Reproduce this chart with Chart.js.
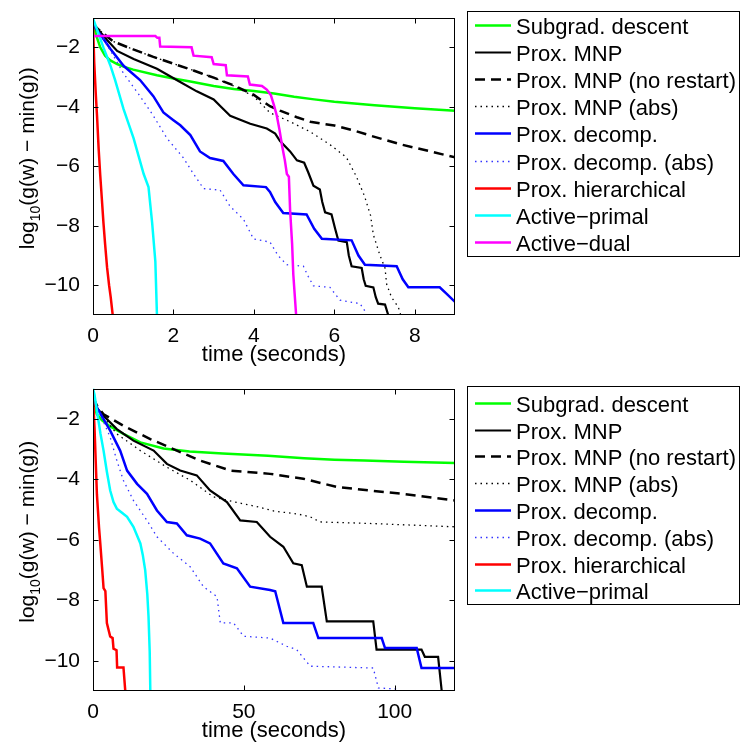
<!DOCTYPE html>
<html lang="en">
<head>
<meta charset="UTF-8">
<title>Convergence comparison</title>
<script src="https://cdn.jsdelivr.net/npm/chart.js"></script>
<style>
    body { margin: 0; background: #fff; }
    canvas { position: absolute; left: 0; }
    #topChart { top: 0; }
    #bottomChart { top: 371px; }
</style>
</head>
<body>
<canvas id="topChart" width="740" height="371"></canvas>
<canvas id="bottomChart" width="740" height="371"></canvas>
<script>
// ---- data: [time in seconds, log10(g(w) - min(g))] ----
const seriesNames = ['Subgrad. descent', 'Prox. MNP', 'Prox. MNP (no restart)', 'Prox. MNP (abs)',
    'Prox. decomp.', 'Prox. decomp. (abs)', 'Prox. hierarchical', 'Active\u2212primal', 'Active\u2212dual'];

const yTickValues = [-10, -8, -6, -4, -2];
const topXTicks = [0, 2, 4, 6, 8];
const bottomXTicks = [0, 50, 100];

// top panel
const topSubgrad = [[0,-1.1],[0.08,-1.6],[0.18,-2.0],[0.3,-2.28],[0.43,-2.44],[0.6,-2.56],[0.76,-2.65],[1.0,-2.75],[1.59,-2.94],[2.0,-3.05],[2.42,-3.15],[3.0,-3.3],[3.5,-3.4],[4.0,-3.47],[4.5,-3.55],[5.0,-3.66],[5.5,-3.75],[6.0,-3.83],[6.5,-3.89],[7.0,-3.95],[7.5,-4.0],[8.0,-4.05],[8.5,-4.09],[9,-4.13]];
const topMnp = [[0,-1.2],[0.1,-1.36],[0.35,-1.75],[0.6,-2.12],[1.01,-2.39],[1.59,-2.72],[2.08,-3.1],[2.58,-3.48],[3.0,-3.75],[3.2,-4.02],[3.41,-4.3],[3.91,-4.57],[4.32,-4.73],[4.53,-4.9],[4.65,-5.15],[4.9,-5.5],[5.07,-5.8],[5.25,-5.88],[5.35,-6.2],[5.48,-6.65],[5.64,-6.78],[5.7,-7.2],[5.77,-7.55],[5.93,-7.62],[6.02,-8.1],[6.1,-8.5],[6.31,-8.55],[6.36,-9.0],[6.43,-9.36],[6.68,-9.42],[6.73,-9.8],[6.78,-10.02],[6.97,-10.07],[7.03,-10.4],[7.09,-10.62],[7.26,-10.65],[7.34,-11.0]];
const topMnpNoRestart = [[0,-1.2],[0.1,-1.36],[0.5,-1.8],[1.0,-2.07],[1.5,-2.32],[2.0,-2.55],[2.5,-2.78],[3.0,-3.02],[3.5,-3.28],[4.0,-3.6],[4.4,-3.98],[4.65,-4.13],[5.07,-4.35],[5.4,-4.5],[6.0,-4.63],[6.5,-4.8],[6.9,-4.97],[7.7,-5.28],[8.3,-5.47],[9,-5.7]];
const topMnpAbs = [[0,-1.2],[0.1,-1.36],[0.5,-1.8],[1.0,-2.07],[1.5,-2.32],[2.0,-2.55],[2.5,-2.78],[3.0,-3.02],[3.5,-3.3],[4.0,-3.65],[4.4,-4.2],[4.9,-4.5],[5.4,-4.84],[5.9,-5.28],[6.3,-5.7],[6.55,-6.35],[6.75,-7.0],[6.9,-7.65],[6.97,-8.3],[7.13,-8.98],[7.26,-9.42],[7.3,-9.96],[7.42,-10.4],[7.59,-10.73],[7.65,-11.0]];
const topDecomp = [[0,-1.25],[0.2,-1.6],[0.43,-2.05],[0.76,-2.62],[1.17,-3.1],[1.5,-3.64],[1.75,-4.19],[2.0,-4.45],[2.17,-4.62],[2.42,-4.95],[2.66,-5.5],[2.91,-5.72],[3.24,-5.82],[3.49,-6.26],[3.74,-6.64],[4.3,-6.7],[4.4,-6.86],[4.53,-7.2],[4.73,-7.57],[5.31,-7.62],[5.5,-8.1],[5.69,-8.44],[6.43,-8.49],[6.6,-9.0],[6.76,-9.31],[7.55,-9.36],[7.7,-9.8],[7.84,-10.07],[8.62,-10.07],[8.8,-10.3],[9,-10.56]];
const topDecompAbs = [[0,-1.25],[0.2,-1.6],[0.43,-2.1],[0.6,-2.5],[0.76,-2.88],[1.17,-3.64],[1.5,-4.3],[1.84,-5.06],[2.25,-5.72],[2.5,-6.26],[2.75,-6.75],[3.16,-6.8],[3.41,-7.35],[3.74,-7.78],[3.99,-8.44],[4.4,-8.55],[4.6,-9.0],[4.82,-9.31],[5.23,-9.36],[5.35,-9.7],[5.48,-10.02],[5.89,-10.07],[6.14,-10.5],[6.64,-10.62],[6.8,-10.95]];
const topHier = [[0,-1.2],[0.03,-2.5],[0.07,-3.6],[0.1,-4.3],[0.14,-5.4],[0.18,-6.3],[0.22,-7.1],[0.26,-7.9],[0.3,-8.6],[0.35,-9.4],[0.4,-10.0],[0.44,-10.4],[0.49,-11]];
const topPrimal = [[0,-1.03],[0.1,-1.4],[0.26,-2.01],[0.43,-2.6],[0.55,-3.1],[0.76,-4.08],[1.01,-5.06],[1.26,-6.26],[1.38,-6.7],[1.47,-7.89],[1.55,-9.2],[1.59,-11]];
const topDual = [[0,-1.62],[1.55,-1.62],[1.6,-1.68],[1.65,-1.68],[1.67,-1.97],[2.45,-2.0],[2.5,-2.28],[2.95,-2.33],[3.0,-2.56],[3.3,-2.6],[3.33,-2.94],[3.85,-2.98],[3.9,-3.25],[4.2,-3.3],[4.32,-3.42],[4.42,-3.6],[4.5,-3.95],[4.57,-4.3],[4.64,-4.8],[4.7,-5.3],[4.77,-5.8],[4.82,-6.26],[4.87,-6.35],[4.9,-7.46],[4.95,-8.6],[4.98,-9.64],[5.05,-11]];

// bottom panel
const botSubgrad = [[0,-1.45],[1.3,-1.85],[3,-2.05],[5.7,-2.25],[10.1,-2.5],[15.7,-2.78],[23.4,-2.98],[32,-3.08],[43,-3.15],[58,-3.22],[70,-3.3],[80,-3.35],[90,-3.38],[103,-3.42],[120,-3.46]];
const botMnp = [[0,-1.35],[0.2,-1.52],[3.5,-1.9],[7.9,-2.34],[13.4,-2.72],[20.1,-3.05],[24.5,-3.49],[28.9,-3.71],[34.4,-3.87],[38.8,-4.37],[44.4,-4.75],[48.8,-5.36],[54.3,-5.41],[58.7,-5.9],[63.1,-6.23],[66.4,-6.78],[69.2,-6.84],[70.9,-7.55],[75.8,-7.55],[77.5,-8.7],[92.9,-8.7],[94.0,-9.63],[108.9,-9.63],[110,-9.87],[114.4,-9.87],[115.6,-11]];
const botMnpNoRestart = [[0,-1.3],[1.5,-1.6],[3.5,-1.85],[10.1,-2.23],[19,-2.67],[27.8,-3.05],[35.5,-3.38],[45.5,-3.71],[58.7,-3.82],[69.7,-3.98],[80.8,-4.25],[91.8,-4.37],[102.8,-4.48],[120,-4.7]];
const botMnpAbs = [[0,-1.3],[2,-1.75],[4,-2.0],[7.9,-2.5],[15.7,-3.05],[24.5,-3.6],[32.2,-4.03],[36,-4.3],[39.9,-4.58],[46.5,-4.74],[54.2,-4.9],[60,-5.05],[68,-5.15],[72,-5.24],[75.3,-5.41],[91.8,-5.46],[120,-5.57]];
const botDecomp = [[0,-1.3],[1.3,-1.63],[5.7,-2.39],[9,-3.05],[11.3,-3.71],[14.6,-4.15],[17.9,-4.48],[21.2,-5.03],[24.5,-5.41],[27.8,-5.46],[31.1,-5.85],[35.5,-5.96],[38.8,-6.12],[43.2,-6.78],[47.7,-6.94],[52.1,-7.55],[58.7,-7.66],[60.4,-7.7],[63.1,-8.75],[73.0,-8.75],[74.7,-9.25],[95.7,-9.25],[96.8,-9.58],[107.3,-9.58],[108.9,-10.24],[120,-10.24]];
const botDecompAbs = [[0,-1.3],[1.3,-1.63],[3.5,-2.1],[5.7,-2.61],[7.9,-3.38],[10.1,-4.04],[13.4,-4.7],[17.9,-5.36],[21.2,-5.9],[26.7,-6.45],[32.2,-6.89],[36.6,-7.55],[41.1,-7.88],[42.2,-8.75],[46.6,-8.75],[49.9,-9.19],[58.7,-9.25],[64.2,-9.52],[67.5,-9.63],[72,-10.18],[92.9,-10.24],[94.6,-10.9],[101.8,-10.94]];
const botHier = [[0,-1.2],[0.5,-2.3],[1.3,-4.5],[2.0,-5.6],[2.4,-6.1],[3.0,-6.9],[3.5,-7.6],[4.1,-7.7],[4.6,-8.75],[5.7,-9.2],[6.5,-9.25],[6.8,-9.6],[7.8,-9.65],[8,-10.22],[10.1,-10.22],[10.7,-11]];
const botPrimal = [[0,-1.0],[0.5,-1.2],[1.3,-1.74],[2.5,-2.5],[3.5,-3.05],[4.6,-3.75],[5.7,-4.37],[6.8,-4.75],[7.9,-4.97],[9.5,-5.1],[11.3,-5.24],[13.4,-5.57],[15.7,-6.12],[16.5,-6.5],[17.3,-7.0],[18.0,-7.8],[18.4,-8.53],[18.8,-9.7],[19,-11]];

// ---- line styles, same order as seriesNames ----
const lineStyles = [
    { color: '#00ff00', width: 2.5, dash: [] },
    { color: '#000000', width: 2.2, dash: [] },
    { color: '#000000', width: 2.5, dash: [10, 6] },
    { color: '#000000', width: 1.3, dash: [1.5, 4] },
    { color: '#0000ff', width: 2.5, dash: [] },
    { color: '#3333ff', width: 1.3, dash: [1.5, 4] },
    { color: '#ff0000', width: 2.5, dash: [] },
    { color: '#00ffff', width: 2.5, dash: [] },
    { color: '#ff00ff', width: 2.5, dash: [] }
];

const FONT = '"Liberation Sans", Arial, Helvetica, sans-serif';
const minus = s => String(s).replace('-', '\u2212');

// box, inward ticks, axis titles and legend box
const framePlugin = {
    id: 'frame',
    afterDraw(chart, args, opts) {
        const ctx = chart.ctx, a = chart.chartArea;
        const xs = chart.scales.x, ys = chart.scales.y;
        ctx.save();
        ctx.strokeStyle = '#000';
        ctx.lineWidth = 1;
        const L = Math.round(a.left) + 0.5, R = Math.round(a.right) - 0.5;
        const T = Math.round(a.top) + 0.5, B = Math.round(a.bottom) - 0.5;
        ctx.strokeRect(L, T, R - L, B - T);
        ctx.beginPath();
        xs.ticks.forEach(t => {
            const px = Math.round(xs.getPixelForValue(t.value)) + 0.5;
            ctx.moveTo(px, B); ctx.lineTo(px, B - 5);
            ctx.moveTo(px, T); ctx.lineTo(px, T + 5);
        });
        ys.ticks.forEach(t => {
            const py = Math.round(ys.getPixelForValue(t.value)) + 0.5;
            ctx.moveTo(L, py); ctx.lineTo(L + 5, py);
            ctx.moveTo(R, py); ctx.lineTo(R - 5, py);
        });
        ctx.stroke();

        // x title
        ctx.fillStyle = '#000';
        ctx.font = '22px ' + FONT;
        ctx.textAlign = 'center';
        ctx.textBaseline = 'alphabetic';
        ctx.fillText('time (seconds)', (a.left + a.right) / 2, a.bottom + 46);

        // y title with subscript
        const parts = [['log', 21, 0], ['10', 14, 6], ['(g(w) \u2212 min(g))', 21, 0]];
        let total = 0;
        parts.forEach(p => { ctx.font = p[1] + 'px ' + FONT; total += ctx.measureText(p[0]).width; });
        ctx.translate(34, (a.top + a.bottom) / 2 - 8);
        ctx.rotate(-Math.PI / 2);
        ctx.textAlign = 'left';
        let cx = -total / 2;
        parts.forEach(p => {
            ctx.font = p[1] + 'px ' + FONT;
            ctx.fillText(p[0], cx, p[2]);
            cx += ctx.measureText(p[0]).width;
        });
        ctx.setTransform(1, 0, 0, 1, 0, 0);

        // legend
        const lg = opts.legend;
        ctx.fillStyle = '#fff';
        ctx.fillRect(lg.left, lg.top, lg.right - lg.left, lg.bottom - lg.top);
        ctx.strokeStyle = '#000';
        ctx.lineWidth = 1;
        ctx.strokeRect(lg.left + 0.5, lg.top + 0.5, lg.right - lg.left - 1, lg.bottom - lg.top - 1);
        ctx.font = '22px ' + FONT;
        ctx.textAlign = 'left';
        chart.data.datasets.forEach((ds, i) => {
            const y = Math.round(lg.firstRow + i * lg.rowStep) + 0.5;
            ctx.strokeStyle = ds.borderColor;
            ctx.lineWidth = ds.borderWidth;
            ctx.setLineDash(ds.borderDash);
            ctx.beginPath();
            ctx.moveTo(lg.left + 8, y);
            ctx.lineTo(lg.left + 44, y);
            ctx.stroke();
            ctx.setLineDash([]);
            ctx.fillStyle = '#000';
            ctx.fillText(ds.label, lg.left + 49, y + 8);
        });
        ctx.restore();
    }
};

function buildChart(canvasId, series, xMax, xTicks, areaTop, xHeight, legend) {
    const datasets = series.map((pts, i) => ({
        label: seriesNames[i],
        data: pts.map(p => ({ x: p[0], y: p[1] })),
        borderColor: lineStyles[i].color,
        borderWidth: lineStyles[i].width,
        borderDash: lineStyles[i].dash,
        pointRadius: 0,
        tension: 0,
        fill: false,
        order: -i
    }));
    return new Chart(document.getElementById(canvasId), {
        type: 'line',
        data: { datasets },
        plugins: [framePlugin],
        options: {
            responsive: false,
            animation: false,
            layout: { padding: { left: 0, top: areaTop, right: 285, bottom: 0 } },
            plugins: {
                legend: { display: false },
                tooltip: { enabled: false },
                frame: { legend }
            },
            scales: {
                x: {
                    type: 'linear',
                    min: 0,
                    max: xMax,
                    grid: { display: false },
                    border: { display: false },
                    afterBuildTicks: s => { s.ticks = xTicks.map(v => ({ value: v })); },
                    afterFit: s => { s.height = xHeight; },
                    ticks: { color: '#000', font: { family: FONT, size: 21 }, padding: 1, maxRotation: 0, autoSkip: false }
                },
                y: {
                    type: 'linear',
                    min: -11,
                    max: -1,
                    grid: { display: false },
                    border: { display: false },
                    afterBuildTicks: s => { s.ticks = yTickValues.map(v => ({ value: v })); },
                    afterFit: s => { s.width = 93; },
                    ticks: { color: '#000', font: { family: FONT, size: 21 }, padding: 5, callback: v => minus(v) }
                }
            }
        }
    });
}

buildChart('topChart',
    [topSubgrad, topMnp, topMnpNoRestart, topMnpAbs, topDecomp, topDecompAbs, topHier, topPrimal, topDual],
    9, topXTicks, 11, 56,
    { left: 467, top: 11, right: 740, bottom: 257, firstRow: 25, rowStep: 27.1 });

buildChart('bottomChart',
    [botSubgrad, botMnp, botMnpNoRestart, botMnpAbs, botDecomp, botDecompAbs, botHier, botPrimal],
    120, bottomXTicks, 15, 51,
    { left: 467, top: 15, right: 740, bottom: 234, firstRow: 31.7, rowStep: 26.8 });
</script>
</body>
</html>
